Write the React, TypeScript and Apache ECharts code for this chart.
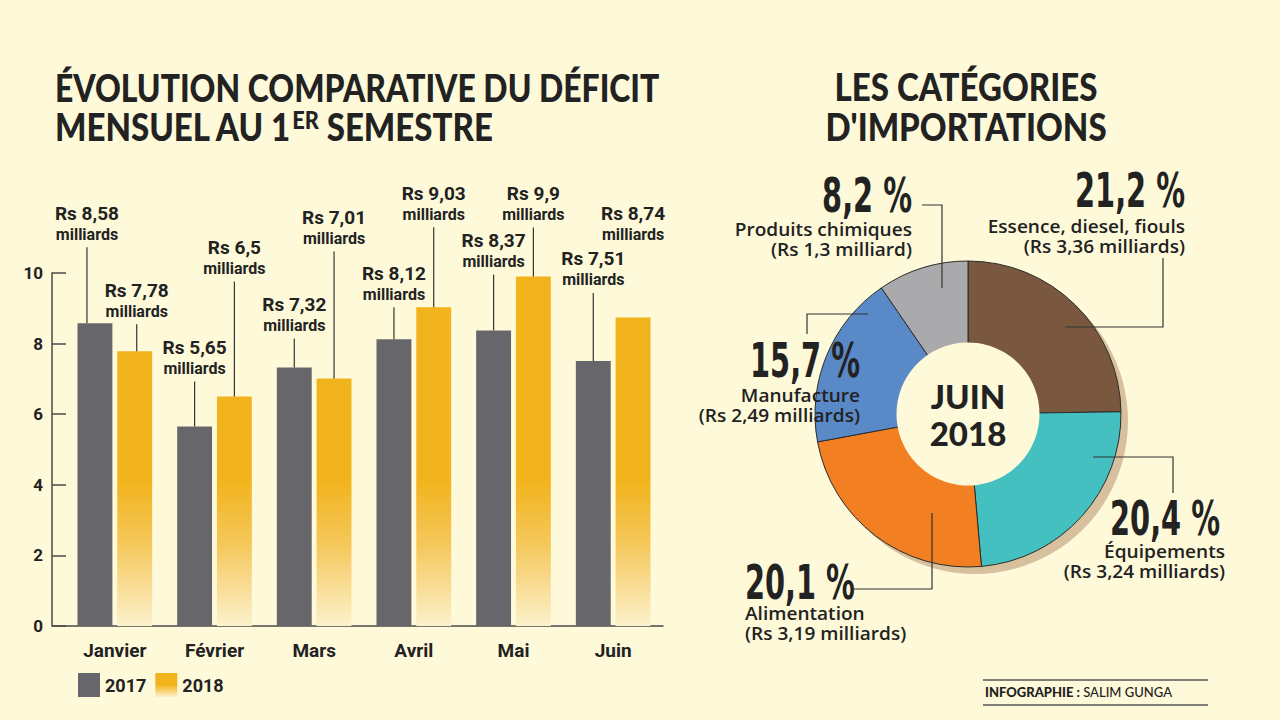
import React, { useEffect, useRef } from 'react';
import * as echarts from 'echarts';

// ---------- data ----------
const months = ['Janvier', 'Février', 'Mars', 'Avril', 'Mai', 'Juin'];
const years = ['2017', '2018'];
const deficit2017 = [8.58, 5.65, 7.32, 8.12, 8.37, 7.51];
const deficit2018 = [7.78, 6.5, 7.01, 9.03, 9.9, 8.74];
const yTicks = [0, 2, 4, 6, 8, 10];

const importCats = ['Essence, diesel, fiouls', 'Équipements', 'Alimentation', 'Manufacture', 'Produits chimiques'];
const importShares = [21.2, 20.4, 20.1, 15.7, 8.2];
const importAmounts = [3.36, 3.24, 3.19, 2.49, 1.3];
const centreLabel = ['JUIN', '2018'];

const leftTitle = ['ÉVOLUTION COMPARATIVE DU DÉFICIT', 'MENSUEL AU 1', 'ER', ' SEMESTRE'];
const rightTitle = ['LES CATÉGORIES', "D'IMPORTATIONS"];
const credit = ['INFOGRAPHIE :', 'SALIM GUNGA'];

// ---------- layout / style (not data) ----------
const lift2017 = [110, 79, 63, 66, 90, 102];
const lift2018 = [61, 149, 161, 114, 83, 104];
const nudge2017 = [-8, 0, 0, 0, 0, 0];
const nudge2018 = [2, 0, 0, 0, 0, 0];
const leader2017 = [1, 1, 1, 1, 1, 1];
const leader2018 = [1, 1, 1, 1, 1, 0];

const BG = '#fdf9d9';
const INK = '#222222';
const AXIS = '#4a4a4a';
const GRAY = '#67666b';
const YELLOW = '#f2b41c';
const sliceColors = ['#7a5840', '#45c0c1', '#f28023', '#5a89c8', '#aaaaac'];

const pieLayout = [
  { pct: [1185, 190], txt: [1185, 226], align: 'right', lead: [[1163, 258], [1163, 327], [1065, 327]] },
  { pct: [1220, 518], txt: [1225, 551], align: 'right', lead: [[1093, 457], [1173, 457], [1173, 493]] },
  { pct: [745, 582], txt: [745, 613], align: 'left', lead: [[852, 589], [932, 589], [932, 513]] },
  { pct: [860, 360], txt: [860, 395], align: 'right', lead: [[807, 334], [807, 314], [868, 314]] },
  { pct: [912, 195], txt: [912, 229], align: 'right', lead: [[922, 205], [942, 205], [942, 288]] },
];

const fmt = (v: number) => String(v).replace('.', ',');

const textEl = (x: number, y: number, text: string, font: string, align = 'left', extra: any = {}, styleExtra: any = {}) => ({
  type: 'text',
  x,
  y,
  z: 100,
  ...extra,
  style: {
    text,
    x: 0,
    y: 0,
    font,
    fill: INK,
    textAlign: align,
    align,
    textVerticalAlign: 'middle',
    verticalAlign: 'middle',
    ...styleExtra,
  },
});

function valueLabels(name: string, values: number[], lifts: number[], nudges: number[], leaders: number[], side: number) {
  return {
    type: 'custom',
    name,
    coordinateSystem: 'cartesian2d',
    silent: true,
    clip: false,
    z: 5,
    encode: { x: 0, y: 1 },
    data: values.map((v, i) => [i, v, lifts[i], leaders[i], nudges[i]]),
    renderItem: (_params: any, api: any) => {
      const idx = api.value(0);
      const v = api.value(1);
      const lift = api.value(2);
      const lead = api.value(3);
      const nudge = api.value(4);
      const pt = api.coord([idx, v]);
      const band = api.size([1, 0])[0];
      const bw = band * 0.35;
      const gap = bw * 0.14;
      const x = pt[0] + side * (bw + gap) / 2;
      const lx = x + nudge;
      const top = pt[1];
      const yRs = top - lift;
      const yMil = yRs + 21;
      const mk = (y: number, t: string, font: string) => ({
        type: 'text',
        x: lx,
        y,
        style: {
          text: t,
          font,
          fill: INK,
          textAlign: 'center',
          align: 'center',
          textVerticalAlign: 'middle',
          verticalAlign: 'middle',
        },
      });
      const children: any[] = [
        mk(yRs, 'Rs ' + fmt(v), '700 19px Roboto'),
        mk(yMil, 'milliards', '700 16px Roboto'),
      ];
      if (lead) {
        children.push({
          type: 'line',
          shape: { x1: lx, y1: yMil + 13, x2: lx, y2: top },
          style: { stroke: '#333', lineWidth: 1.2 },
        });
      }
      return { type: 'group', children };
    },
  };
}

function buildOption(): any {
  const barGrad = new echarts.graphic.LinearGradient(0, 480, 0, 626, [
    { offset: 0, color: YELLOW },
    { offset: 0.45, color: '#f5c85c' },
    { offset: 1, color: '#fcf1cc' },
  ], true);
  const legendGrad = new echarts.graphic.LinearGradient(0, 0, 0, 1, [
    { offset: 0, color: YELLOW },
    { offset: 0.5, color: YELLOW },
    { offset: 1, color: '#fcf1cc' },
  ]);

  const graphics: any[] = [];
  // titles
  graphics.push(textEl(55, 87, leftTitle[0], '900 38px Lato', 'left', { scaleX: 0.84 }));
  graphics.push({
    type: 'text',
    x: 55,
    y: 127,
    z: 100,
    scaleX: 0.87,
    style: {
      text: `{a|${leftTitle[1]}}{s|${leftTitle[2]}}{a|${leftTitle[3]}}`,
      x: 0,
      y: 0,
      textAlign: 'left',
      align: 'left',
      textVerticalAlign: 'middle',
      verticalAlign: 'middle',
      fill: INK,
      rich: {
        a: { font: '900 38px Lato', fill: INK, lineHeight: 40 },
        s: { font: '900 25px Lato', fill: INK, lineHeight: 25, verticalAlign: 'top' },
      },
    },
  });
  graphics.push(textEl(966, 87, rightTitle[0], '900 38px Lato', 'center', { scaleX: 0.87 }));
  graphics.push(textEl(966, 127, rightTitle[1], '900 38px Lato', 'center', { scaleX: 0.87 }));

  // x-axis extension to the y-axis
  graphics.push({ type: 'line', z: 100, shape: { x1: 52, y1: 626, x2: 66, y2: 626 }, style: { stroke: AXIS, lineWidth: 1.5 } });

  // pie labels
  importCats.forEach((cat, i) => {
    const L = pieLayout[i];
    const amt = importAmounts[i];
    graphics.push(textEl(L.pct[0], L.pct[1], fmt(importShares[i]) + ' %', 'bold 48px "DejaVu Sans"', L.align, { scaleX: 0.6 }, { lineHeight: 36 }));
    graphics.push(textEl(L.txt[0], L.txt[1], cat, '600 18px "Open Sans"', L.align, { scaleX: 1.06 }, { lineHeight: 18 }));
    graphics.push(textEl(L.txt[0], L.txt[1] + 20, `(Rs ${fmt(amt)} milliard${amt >= 2 ? 's' : ''})`, '600 18px "Open Sans"', L.align, { scaleX: 1.06 }, { lineHeight: 18 }));
    graphics.push({ type: 'polyline', z: 100, shape: { points: L.lead }, style: { stroke: '#333', lineWidth: 1.2, fill: null } });
  });

  // credit
  graphics.push({ type: 'line', z: 100, shape: { x1: 983, y1: 680, x2: 1208, y2: 680 }, style: { stroke: '#555', lineWidth: 1.5 } });
  graphics.push({ type: 'line', z: 100, shape: { x1: 983, y1: 705, x2: 1208, y2: 705 }, style: { stroke: '#555', lineWidth: 1.5 } });
  graphics.push({
    type: 'text',
    x: 985,
    y: 692,
    z: 100,
    style: {
      text: `{b|${credit[0]}} {r|${credit[1]}}`,
      x: 0,
      y: 0,
      textAlign: 'left',
      align: 'left',
      textVerticalAlign: 'middle',
      verticalAlign: 'middle',
      fill: INK,
      rich: {
        b: { font: '900 13px Lato', fill: INK },
        r: { font: '500 13px Lato', fill: INK },
      },
    },
  });

  return {
    animation: false,
    backgroundColor: BG,
    textStyle: { fontFamily: 'Roboto' },
    grid: { left: 65, right: 617, top: 273, bottom: 94, containLabel: false },
    legend: {
      left: 78,
      top: 673,
      padding: 0,
      itemWidth: 22,
      itemHeight: 24,
      itemGap: 9,
      selectedMode: false,
      textStyle: { fontFamily: 'Roboto', fontWeight: 700, fontSize: 18, color: INK },
      data: [
        { name: years[0], icon: 'rect' },
        { name: years[1], icon: 'rect', itemStyle: { color: legendGrad } },
      ],
    },
    xAxis: {
      type: 'category',
      data: months,
      axisLine: { lineStyle: { color: AXIS, width: 1.5 } },
      axisTick: { inside: true, length: 8, lineStyle: { color: AXIS, width: 1.5 } },
      axisLabel: { margin: 15, fontFamily: 'Roboto', fontWeight: 700, fontSize: 19, color: INK },
    },
    yAxis: {
      type: 'value',
      min: yTicks[0],
      max: yTicks[yTicks.length - 1],
      interval: yTicks[1] - yTicks[0],
      offset: 13,
      axisLine: { show: true, lineStyle: { color: AXIS, width: 1.5 } },
      axisTick: { show: true, inside: true, length: 14, lineStyle: { color: AXIS, width: 1.5 } },
      axisLabel: { margin: 9, fontFamily: 'Roboto', fontWeight: 700, fontSize: 17, color: INK },
      splitLine: { show: false },
    },
    series: [
      {
        type: 'bar',
        name: years[0],
        data: deficit2017,
        barWidth: '35%',
        barGap: '14%',
        itemStyle: { color: GRAY },
        silent: true,
      },
      {
        type: 'bar',
        name: years[1],
        data: deficit2018,
        barWidth: '35%',
        barGap: '14%',
        itemStyle: { color: barGrad },
        silent: true,
      },
      valueLabels('lbl2017', deficit2017, lift2017, nudge2017, leader2017, -1),
      valueLabels('lbl2018', deficit2018, lift2018, nudge2018, leader2018, 1),
      {
        type: 'pie',
        name: 'shadow',
        silent: true,
        z: 1,
        center: [975, 421],
        radius: [0, 153],
        label: { show: false },
        labelLine: { show: false },
        data: [{ value: 1, name: '', itemStyle: { color: '#d7c09d' } }],
      },
      {
        type: 'pie',
        name: 'imports',
        silent: true,
        z: 2,
        center: [968, 414],
        radius: [0, 153],
        startAngle: 90,
        clockwise: true,
        label: { show: false },
        labelLine: { show: false },
        itemStyle: { borderColor: '#2b2b2b', borderWidth: 1 },
        data: importCats.map((c, i) => ({ name: c, value: importShares[i], itemStyle: { color: sliceColors[i] } })),
      },
      {
        type: 'pie',
        name: 'hole',
        silent: true,
        z: 3,
        center: [968, 414],
        radius: [0, 71.5],
        labelLine: { show: false },
        label: {
          show: true,
          position: 'center',
          formatter: centreLabel.join('\n'),
          fontFamily: 'Lato',
          fontWeight: 900,
          fontSize: 33,
          lineHeight: 37,
          color: INK,
        },
        data: [{ value: 1, name: 'centre', itemStyle: { color: BG } }],
      },
    ],
    graphic: { elements: graphics },
  };
}

export default function App() {
  const ref = useRef<HTMLDivElement>(null);
  useEffect(() => {
    if (!ref.current) return;
    const chart = echarts.init(ref.current, undefined, { renderer: 'svg' });
    chart.setOption(buildOption());
    return () => chart.dispose();
  }, []);
  return <div ref={ref} style={{ position: 'fixed', left: 0, top: 0, width: 1280, height: 720 }} />;
}
